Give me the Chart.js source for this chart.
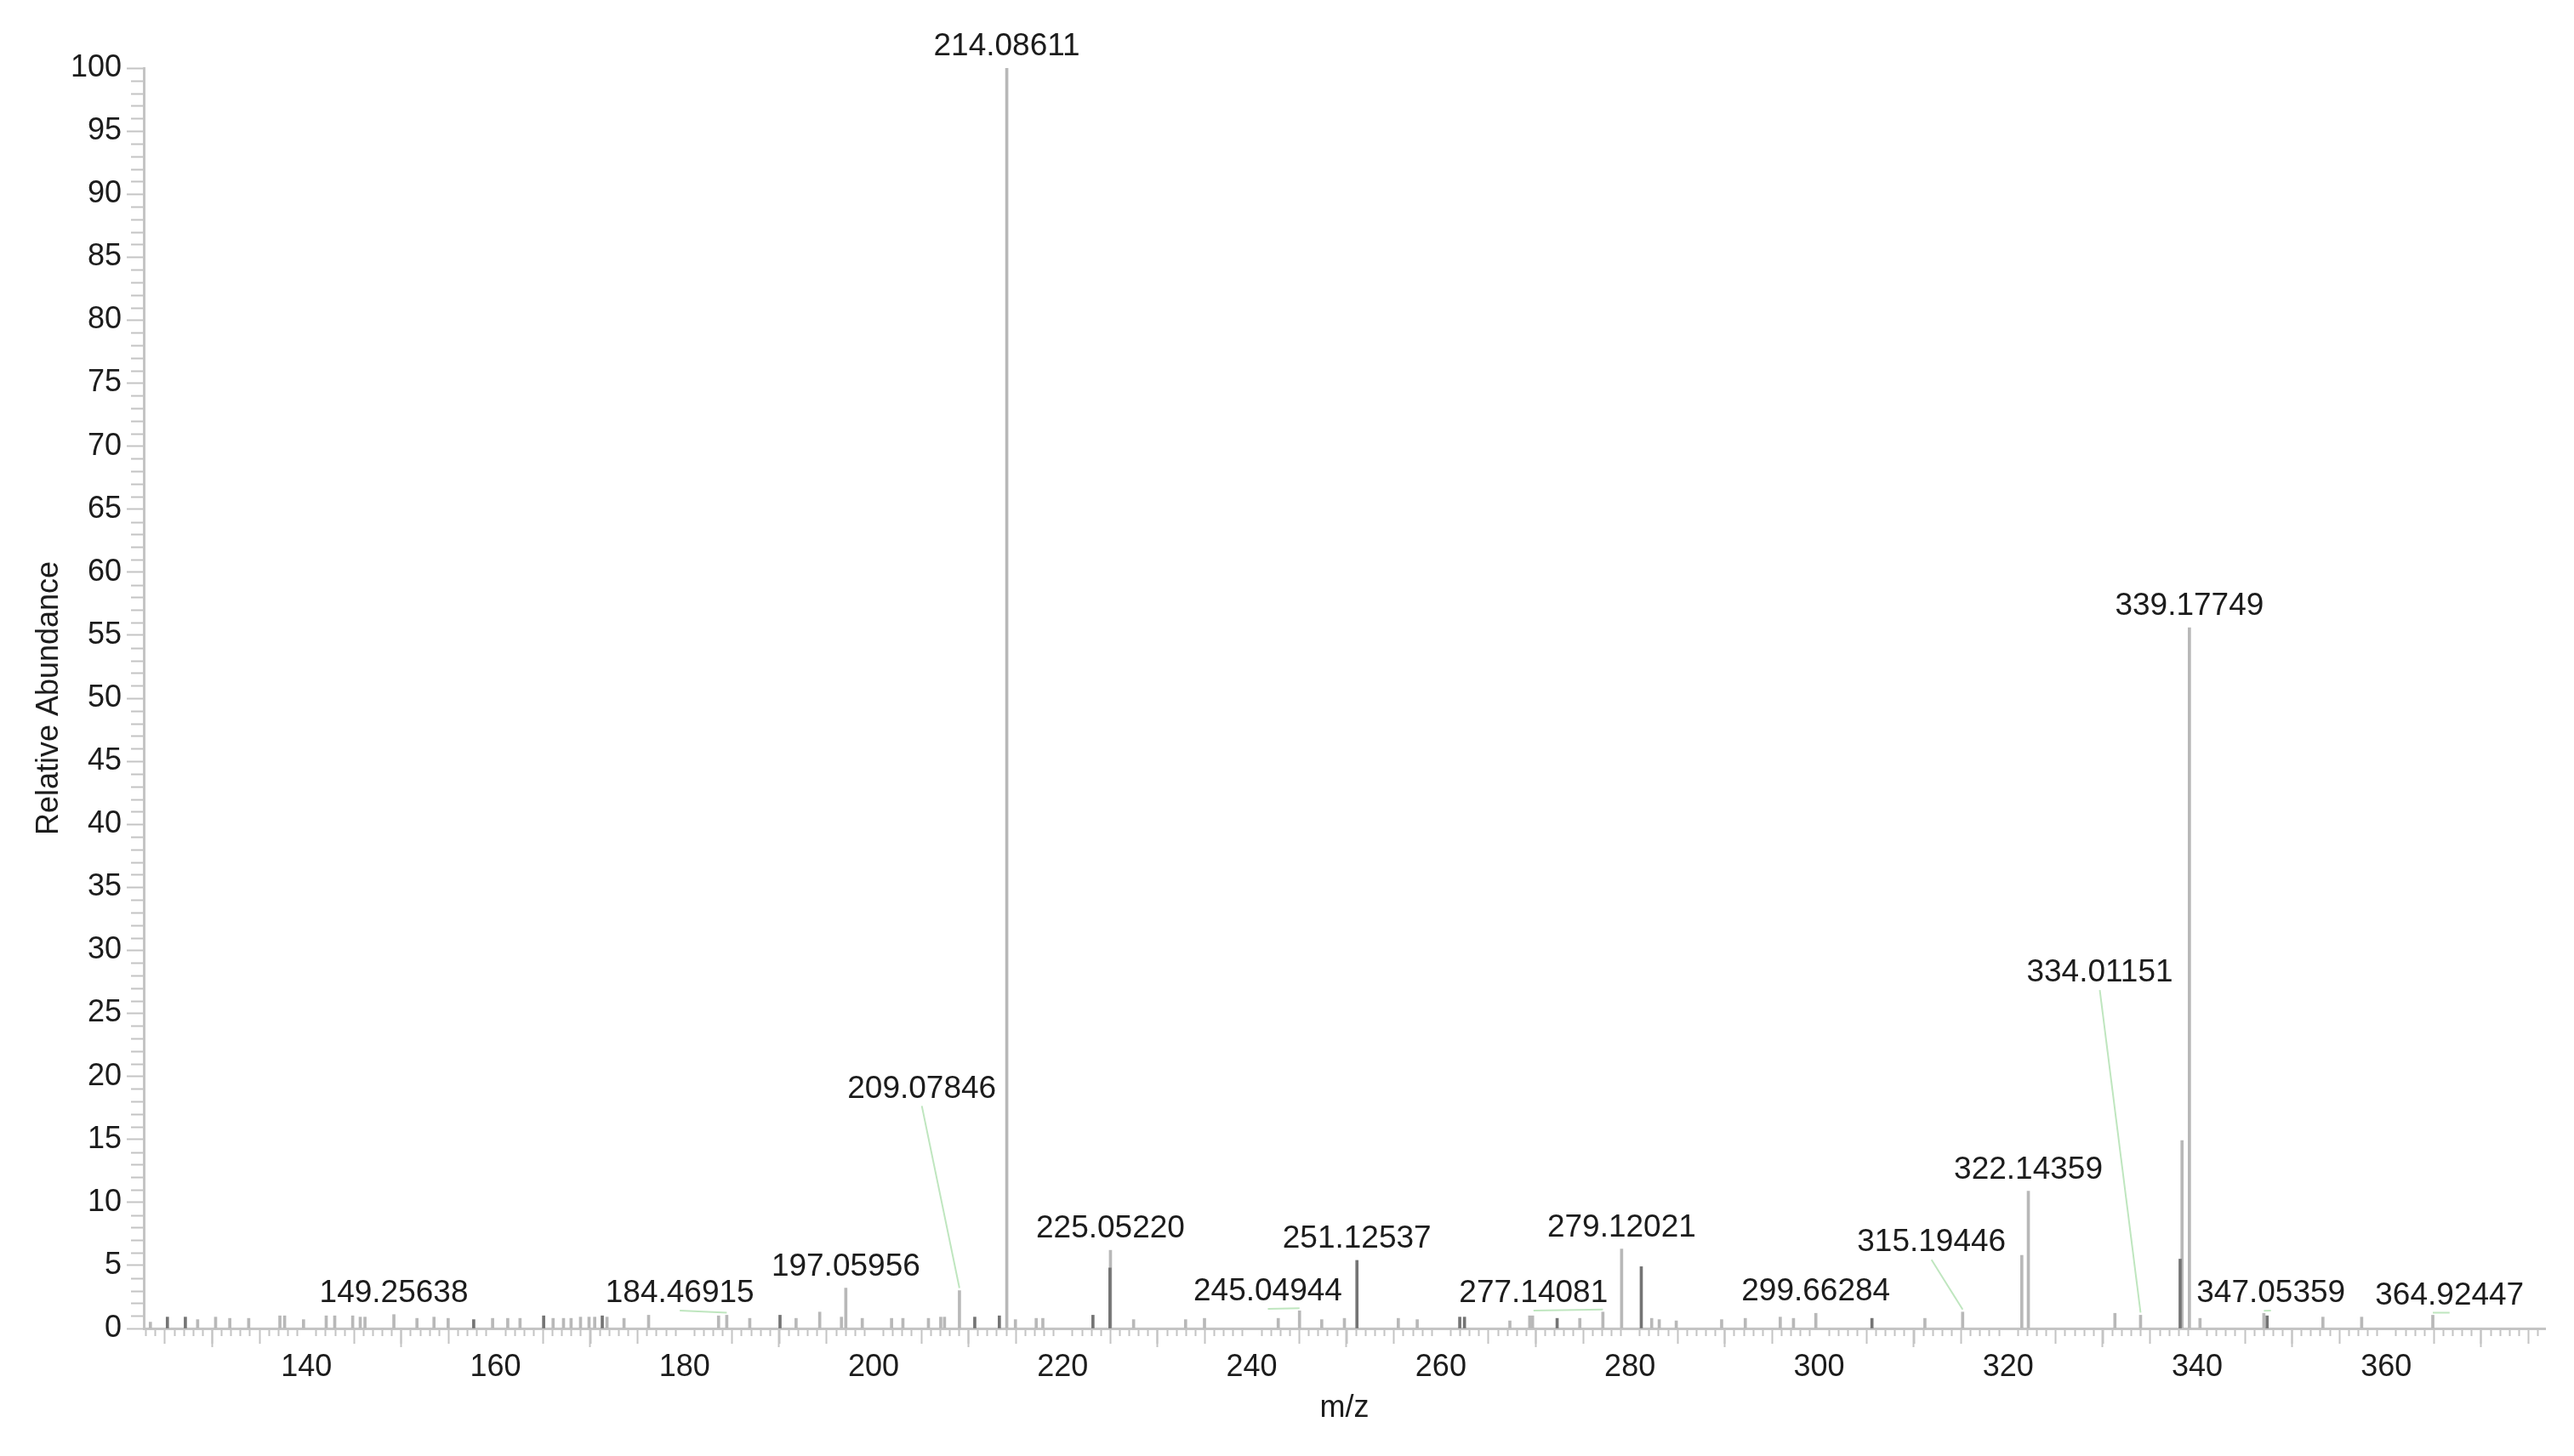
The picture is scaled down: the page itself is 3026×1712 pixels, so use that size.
<!DOCTYPE html>
<html>
<head>
<meta charset="utf-8">
<script src="https://cdn.jsdelivr.net/npm/chart.js@4.4.1/dist/chart.umd.min.js"></script>
<style>
  html, body { margin: 0; padding: 0; background: #ffffff; }
  #wrap { width: 3026px; height: 1712px; position: relative; }
</style>
</head>
<body>
<div id="wrap"><canvas id="c"></canvas></div>
<script>
// ---------------- DATA ----------------
// Light grey sticks (m/z, relative abundance %)
const lightMz = [
  123.5, 128.5, 130.4, 131.9, 133.9, 137.2, 137.7, 139.7, 142.1, 143.0, 144.9, 145.7, 146.2,
  149.25638, 151.7, 153.5, 155.0, 159.7, 161.3, 162.6, 166.1, 167.2, 168.0, 169.0, 169.9, 170.5,
  171.8, 173.6, 176.2, 183.6, 184.46915, 186.9, 191.8, 194.3, 196.6, 197.05956, 198.8, 201.9,
  203.1, 205.8, 207.1, 207.5, 209.07846, 214.08611, 215.0, 217.2, 217.9, 225.05220, 227.5,
  233.0, 235.0, 242.8, 245.04944, 247.4, 249.8, 255.5, 257.5, 267.3, 269.4, 269.7, 274.7,
  277.14081, 279.12021, 282.3, 283.1, 284.9, 289.7, 292.2, 295.9, 297.3, 299.66284, 311.2,
  315.19446, 321.45, 322.14359, 331.3, 334.01151, 338.40, 339.17749, 340.3, 347.05359, 353.3,
  357.4, 364.92447
];
const lightAbundance = [
  0.5, 0.7, 0.9, 0.8, 0.8, 1.0, 1.0, 0.7, 1.0, 1.0, 1.0, 0.9, 0.9,
  1.1, 0.8, 0.9, 0.8, 0.8, 0.8, 0.8, 0.8, 0.8, 0.8, 0.9, 0.9, 0.9,
  0.9, 0.8, 1.05, 1.0, 1.05, 0.8, 0.8, 1.3, 0.9, 3.2, 0.8, 0.8,
  0.8, 0.8, 0.9, 0.9, 3.0, 100, 0.7, 0.8, 0.8, 6.2, 0.7,
  0.7, 0.8, 0.8, 1.4, 0.7, 0.8, 0.8, 0.7, 0.6, 1.0, 1.0, 0.8,
  1.3, 6.3, 0.8, 0.7, 0.6, 0.7, 0.8, 0.9, 0.8, 1.2, 0.8,
  1.3, 5.8, 10.9, 1.2, 1.05, 14.9, 55.6, 0.8, 1.2, 0.9,
  0.9, 1.05
];
// Darker sticks
const darkMz = [
  125.3, 127.2, 157.7, 165.1, 171.3, 190.1, 210.7, 213.3, 223.2, 225.0, 251.12537,
  262.0, 262.5, 272.3, 281.2, 305.6, 338.2, 347.4
];
const darkAbundance = [
  0.9, 0.9, 0.7, 1.0, 1.0, 1.05, 0.9, 1.0, 1.05, 4.8, 5.4,
  0.9, 0.9, 0.8, 4.9, 0.8, 5.5, 1.0
];
// Annotated peaks
const labeledMz = [
  149.25638, 184.46915, 197.05956, 209.07846, 214.08611, 225.05220, 245.04944, 251.12537,
  277.14081, 279.12021, 299.66284, 315.19446, 322.14359, 334.01151, 339.17749, 347.05359,
  364.92447
];
// Axis tick labels
const xTickValues = [140, 160, 180, 200, 220, 240, 260, 280, 300, 320, 340, 360];
const yTickValues = [0, 5, 10, 15, 20, 25, 30, 35, 40, 45, 50, 55, 60, 65, 70, 75, 80, 85, 90, 95, 100];
const xTitle = 'm/z';
const yTitle = 'Relative Abundance';

// ---------------- LAYOUT (annotation placement, data space) ----------------
// labels that sit away from their peak and are joined by a leader line
const leaderFor = [184.46915, 209.07846, 245.04944, 277.14081, 315.19446, 334.01151, 347.05359, 364.92447];
const leaderLabelMz = [179.5, 205.1, 241.7, 269.8, 311.9, 329.7, 347.8, 366.7];
const leaderLabelAb = [2.77, 19.0, 2.9, 2.77, 6.8, 28.2, 2.77, 2.6];

const FONT = '"Liberation Sans", Arial, Helvetica, sans-serif';
const TEXT = '#1c1c1c';
const AXIS = '#c4c4c4';

function toPoints(xs, ys) { return xs.map((v, i) => ({ x: v, y: ys[i] })); }

const minorTicks = {
  id: 'minorTicks',
  beforeDatasetsDraw(chart) {
    const { ctx, scales: { x, y }, chartArea } = chart;
    ctx.save();
    ctx.strokeStyle = AXIS;
    ctx.lineWidth = 2;
    ctx.beginPath();
    for (let v = Math.ceil(x.min); v <= x.max; v++) {
      if (v % 20 === 0) continue;
      const px = Math.round(x.getPixelForValue(v)) + 0.5;
      const len = (v % 5 === 0) ? 18 : 9;
      ctx.moveTo(px, chartArea.bottom);
      ctx.lineTo(px, chartArea.bottom + len);
    }
    for (let v = 0; v <= 100; v++) {
      if (v % 5 === 0) continue;
      const py = Math.round(y.getPixelForValue(v)) + 0.5;
      ctx.moveTo(chartArea.left - 15, py);
      ctx.lineTo(chartArea.left, py);
    }
    ctx.stroke();
    ctx.restore();
  }
};

const peakLabels = {
  id: 'peakLabels',
  afterDatasetsDraw(chart) {
    const { ctx, scales: { x, y } } = chart;
    ctx.save();
    ctx.font = '37px ' + FONT;
    ctx.fillStyle = TEXT;
    ctx.textAlign = 'center';
    ctx.textBaseline = 'middle';
    labeledMz.forEach(mz => {
      let h;
      let i = lightMz.indexOf(mz);
      if (i >= 0) h = lightAbundance[i];
      else { i = darkMz.indexOf(mz); h = darkAbundance[i]; }
      const px = x.getPixelForValue(mz);
      const py = y.getPixelForValue(h);
      const k = leaderFor.indexOf(mz);
      let lx = px, ly = py - 25;
      if (k >= 0) {
        lx = x.getPixelForValue(leaderLabelMz[k]);
        ly = y.getPixelForValue(leaderLabelAb[k]);
        ctx.save();
        ctx.strokeStyle = '#bfe6bf';
        ctx.lineWidth = 2;
        ctx.beginPath();
        ctx.moveTo(lx, ly + 20);
        ctx.lineTo(px, py - 3);
        ctx.stroke();
        ctx.restore();
      }
      ctx.fillText(mz.toFixed(5), lx, ly);
    });
    ctx.restore();
  }
};

new Chart(document.getElementById('c'), {
  type: 'bar',
  data: {
    datasets: [
      {
        label: 'dark',
        data: toPoints(darkMz, darkAbundance),
        backgroundColor: '#747474',
        barThickness: 3,
        grouped: false
      },
      {
        label: 'light',
        data: toPoints(lightMz, lightAbundance),
        backgroundColor: '#b8b8b8',
        barThickness: 3,
        grouped: false
      }
    ]
  },
  options: {
    responsive: true,
    maintainAspectRatio: false,
    devicePixelRatio: 1,
    animation: false,
    events: [],
    layout: { padding: { top: 80, right: 34, bottom: 0, left: 0 } },
    plugins: { legend: { display: false }, tooltip: { enabled: false } },
    scales: {
      x: {
        type: 'linear',
        min: 122.8,
        max: 376.8,
        offset: false,
        afterBuildTicks: s => { s.ticks = xTickValues.map(v => ({ value: v })); },
        afterFit: s => { s.height = 150; },
        border: { display: true, color: AXIS, width: 3 },
        grid: { drawOnChartArea: false, drawTicks: true, tickLength: 22, tickColor: AXIS, tickWidth: 2 },
        ticks: { color: TEXT, font: { family: FONT, size: 36, lineHeight: 1.2 }, padding: 2, maxRotation: 0, autoSkip: false },
        title: { display: true, text: xTitle, color: TEXT, font: { family: FONT, size: 36, lineHeight: 1.2 }, padding: { top: 0, bottom: 34 } }
      },
      y: {
        type: 'linear',
        min: 0,
        max: 100,
        afterBuildTicks: s => { s.ticks = yTickValues.map(v => ({ value: v })); },
        afterFit: s => { s.width = 169; },
        border: { display: true, color: AXIS, width: 3 },
        grid: { drawOnChartArea: false, drawTicks: true, tickLength: 20, tickColor: AXIS, tickWidth: 2 },
        ticks: { color: TEXT, font: { family: FONT, size: 36, lineHeight: 1.2 }, padding: 6, autoSkip: false },
        title: { display: true, text: yTitle, color: TEXT, font: { family: FONT, size: 36, lineHeight: 1.2 }, padding: { top: 36, bottom: 0 } }
      }
    }
  },
  plugins: [minorTicks, peakLabels]
});
</script>
</body>
</html>
